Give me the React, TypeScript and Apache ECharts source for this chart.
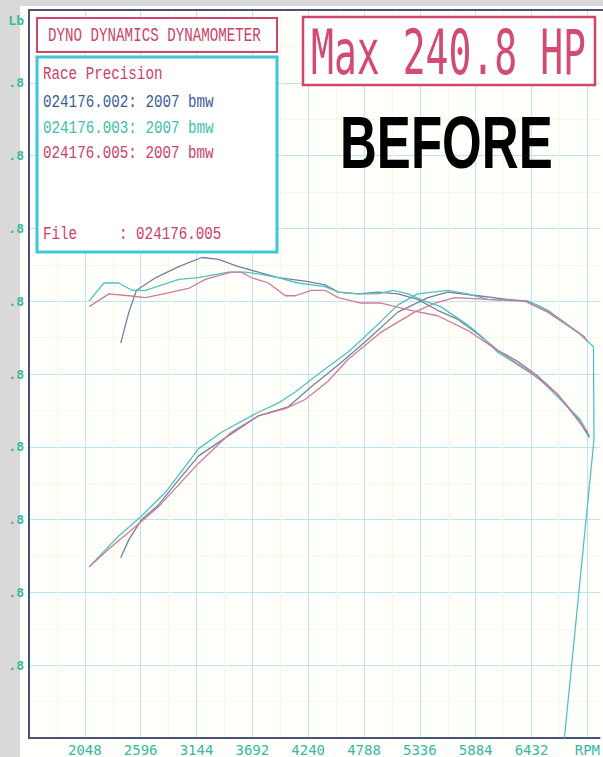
import React, { useEffect, useRef } from "react";
import * as echarts from "echarts";

// X ticks (RPM) shown under the grid lines, starting one interval after axis min
const xTickLabels = ["2048", "2596", "3144", "3692", "4240", "4788", "5336", "5884", "6432", "RPM"];
// Y ticks (cut-off labels on the scan) for 40..360
const yTickLabels = [".8", ".8", ".8", ".8", ".8", ".8", ".8", ".8", ".8"];

const legendLines = [
  "024176.002: 2007 bmw",
  "024176.003: 2007 bmw",
  "024176.005: 2007 bmw",
];

// [rpm, value]
const power002 = [
  [2400, 99], [2480, 109], [2605, 120], [2770, 128], [2970, 142], [3165, 155], [3455, 166],
  [3750, 177], [4045, 182], [4270, 193], [4535, 205], [4825, 219], [5120, 234], [5415, 242],
  [5610, 245], [5905, 243], [6195, 241], [6395, 240], [6590, 235], [6785, 227], [6960, 220],
];
const power003 = [
  [2090, 94], [2380, 111], [2605, 122], [2840, 135], [3165, 159], [3390, 168], [3585, 174],
  [3750, 179], [3945, 184], [4110, 190], [4270, 197], [4435, 204], [4630, 212], [4825, 222],
  [4975, 230], [5120, 238], [5315, 244], [5610, 246], [5805, 244], [6000, 241], [6395, 240],
  [6520, 237], [6715, 230], [6910, 222], [7040, 215], [7045, 164], [6755, 0],
];
const power005 = [
  [2090, 94], [2285, 104], [2480, 113], [2770, 127], [3165, 151], [3485, 168], [3750, 177],
  [4015, 181], [4210, 186], [4435, 196], [4630, 208], [4955, 223], [5285, 234], [5485, 239],
  [5680, 242], [6000, 241], [6365, 240], [6590, 234], [6910, 222], [6980, 218],
];
const torque002 = [
  [2400, 217], [2480, 234], [2555, 246], [2745, 253], [2970, 259], [3195, 264], [3360, 263],
  [3555, 259], [3750, 256], [3945, 253], [4210, 251], [4405, 249], [4535, 245], [4730, 244],
  [4925, 245], [5120, 244], [5315, 241], [5510, 235], [5710, 230], [5905, 222], [6100, 213],
  [6295, 207], [6490, 199], [6685, 189], [6880, 176], [7000, 165],
];
const torque003 = [
  [2090, 240], [2235, 250], [2380, 250], [2510, 246], [2645, 246], [2970, 252], [3165, 253],
  [3455, 256], [3625, 256], [3750, 255], [3945, 253], [4140, 250], [4405, 248], [4535, 245],
  [4730, 244], [4925, 244], [5070, 246], [5220, 244], [5385, 240], [5540, 237], [5805, 227],
  [5935, 221], [6100, 212], [6325, 204], [6520, 197], [6715, 186], [6910, 175], [7000, 166],
];
const torque005 = [
  [2090, 237], [2285, 244], [2480, 243], [2645, 242], [2900, 245], [3065, 247], [3230, 252],
  [3485, 256], [3585, 256], [3680, 253], [3850, 250], [4015, 243], [4115, 243], [4270, 246],
  [4405, 246], [4535, 242], [4760, 239], [4955, 239], [5250, 235], [5510, 232], [5805, 224],
  [6100, 213], [6395, 202], [6685, 189], [6980, 168],
];

const BLUE = "#7480a4";
const CYAN = "#52c2c0";
const RED = "#d07c94";
const TEAL_TXT = "#36b8a4";
const RED_TXT = "#cc4266";

export default function App() {
  const ref = useRef<HTMLDivElement>(null);

  useEffect(() => {
    if (!ref.current) return;
    const chart = echarts.init(ref.current, null, { renderer: "svg" });

    const mk = (name: string, data: number[][], color: string) => ({
      name,
      type: "line",
      data,
      showSymbol: false,
      smooth: false,
      z: 3,
      lineStyle: { color, width: 1.3 },
    });

    const monoSmall = "18px 'Liberation Mono', 'DejaVu Sans Mono', monospace";

    chart.setOption({
      animation: false,
      backgroundColor: "#fffffb",
      grid: { left: 29, right: 1, top: 10, bottom: 18, containLabel: false },
      xAxis: {
        type: "value",
        min: 1500,
        max: 7100,
        interval: 548,
        axisLine: { show: true, lineStyle: { color: "#4a5276", width: 2 } },
        axisTick: { show: false },
        minorTick: { show: false, splitNumber: 2 },
        minorSplitLine: { show: true, lineStyle: { color: "#faf6e2", width: 1 } },
        splitLine: { show: true, showMinLine: false, showMaxLine: false, lineStyle: { color: "#bde5f0", width: 1 } },
        axisLabel: {
          color: TEAL_TXT,
          fontFamily: "'DejaVu Sans Mono', monospace",
          fontSize: 14,
          margin: 5,
          showMinLabel: true,
          showMaxLabel: true,
          formatter: (v: number) => {
            const r = (v - 1500) / 548;
            const k = Math.round(r);
            if (Math.abs(r - k) > 1e-6) return "";
            return xTickLabels[k - 1] ?? "";
          },
        },
      },
      yAxis: {
        type: "value",
        min: 0,
        max: 400,
        interval: 40,
        axisLine: { show: true, lineStyle: { color: "#4a5276", width: 2 } },
        axisTick: { show: false },
        minorTick: { show: false, splitNumber: 2 },
        minorSplitLine: { show: true, lineStyle: { color: "#faf6e2", width: 1 } },
        splitLine: { show: true, showMinLine: false, showMaxLine: false, lineStyle: { color: "#bde5f0", width: 1 } },
        axisLabel: {
          color: TEAL_TXT,
          fontFamily: "'DejaVu Sans Mono', monospace",
          fontSize: 13,
          fontWeight: "bold",
          margin: 5,
          formatter: (v: number) => {
            const k = Math.round(v / 40);
            return yTickLabels[k - 1] ?? "";
          },
        },
      },
      series: [
        mk("024176.002 power", power002, BLUE),
        mk("024176.003 power", power003, CYAN),
        mk("024176.005 power", power005, RED),
        mk("024176.002 torque", torque002, BLUE),
        mk("024176.003 torque", torque003, CYAN),
        mk("024176.005 torque", torque005, RED),
      ],
      graphic: [
        { type: "rect", z: -5, shape: { x: 0, y: 0, width: 20, height: 757 }, style: { fill: "#d9d9d9" } },
        { type: "rect", z: -5, shape: { x: 0, y: 0, width: 603, height: 6 }, style: { fill: "#d9d9d9" } },
        { type: "line", z: 20, shape: { x1: 28, y1: 10, x2: 603, y2: 10 }, style: { stroke: "#4a5276", lineWidth: 2 } },
        {
          type: "text", z: 30, x: 24, y: 20,
          style: { text: "Lb", fill: TEAL_TXT, font: "bold 13px 'DejaVu Sans Mono', monospace", align: "right", verticalAlign: "middle" },
        },
        // Title box
        { type: "rect", z: 30, shape: { x: 37, y: 18, width: 240, height: 34 }, style: { fill: "#ffffff", stroke: "#d04668", lineWidth: 2 } },
        {
          type: "text", z: 31, x: 48, y: 36, scaleX: 0.71,
          style: { text: "DYNO DYNAMICS DYNAMOMETER", fill: RED_TXT, font: "20px 'Liberation Mono', 'DejaVu Sans Mono', monospace", verticalAlign: "middle" },
        },
        // Legend box
        { type: "rect", z: 30, shape: { x: 37, y: 57, width: 240, height: 195 }, style: { fill: "#ffffff", stroke: "#3cc8d8", lineWidth: 3 } },
        {
          type: "text", z: 31, x: 43, y: 74, scaleX: 0.79,
          style: { text: "Race Precision", fill: RED_TXT, font: monoSmall, verticalAlign: "middle" },
        },
        {
          type: "text", z: 31, x: 43, y: 102, scaleX: 0.79,
          style: { text: legendLines[0], fill: "#3c5c9c", font: monoSmall, verticalAlign: "middle" },
        },
        {
          type: "text", z: 31, x: 43, y: 128, scaleX: 0.79,
          style: { text: legendLines[1], fill: "#3cc0a8", font: monoSmall, verticalAlign: "middle" },
        },
        {
          type: "text", z: 31, x: 43, y: 153, scaleX: 0.79,
          style: { text: legendLines[2], fill: RED_TXT, font: monoSmall, verticalAlign: "middle" },
        },
        {
          type: "text", z: 31, x: 43, y: 234, scaleX: 0.79,
          style: { text: "File", fill: RED_TXT, font: monoSmall, verticalAlign: "middle" },
        },
        {
          type: "text", z: 31, x: 119, y: 234, scaleX: 0.79,
          style: { text: ": 024176.005", fill: RED_TXT, font: monoSmall, verticalAlign: "middle" },
        },
        // Max box
        { type: "rect", z: 30, shape: { x: 303, y: 17, width: 292, height: 68 }, style: { fill: "#ffffff", stroke: "#d04668", lineWidth: 2.5 } },
        {
          type: "text", z: 31, x: 311, y: 52, scaleX: 0.614,
          style: { text: "Max 240.8 HP", fill: "#d24c72", font: "62px 'DejaVu Sans Mono', monospace", verticalAlign: "middle" },
        },
        {
          type: "text", z: 31, x: 340, y: 142, scaleX: 0.69,
          style: { text: "BEFORE", fill: "#000000", font: "bold 74px 'Liberation Sans', Arial, sans-serif", verticalAlign: "middle" },
        },
      ],
    });

    return () => chart.dispose();
  }, []);

  return (
    <div
      ref={ref}
      style={{ position: "absolute", left: 0, top: 0, width: 603, height: 757 }}
    />
  );
}
